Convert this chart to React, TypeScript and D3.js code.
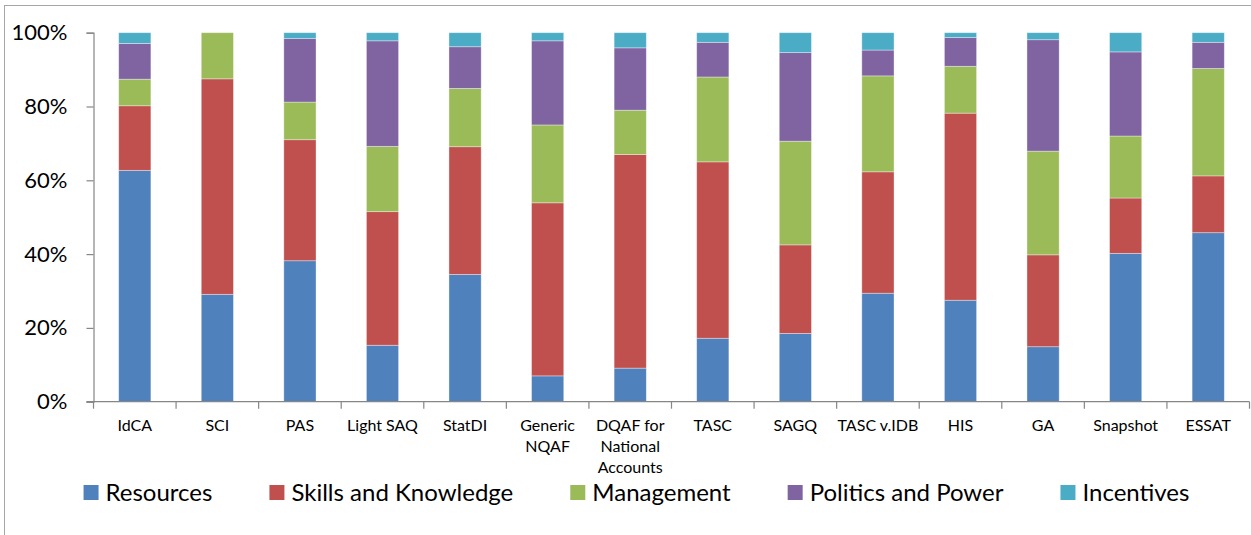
import { useEffect, useRef } from "react"
import * as d3 from "d3"

// category labels, already broken into lines the way the original wraps them
const categories = [
  ["IdCA"],
  ["SCI"],
  ["PAS"],
  ["Light SAQ"],
  ["StatDI"],
  ["Generic", "NQAF"],
  ["DQAF for", "National", "Accounts"],
  ["TASC"],
  ["SAGQ"],
  ["TASC v.IDB"],
  ["HIS"],
  ["GA"],
  ["Snapshot"],
  ["ESSAT"],
]

const seriesNames = ["Resources", "Skills and Knowledge", "Management", "Politics and Power", "Incentives"]
const seriesColors = ["#4F81BD", "#C0504D", "#9BBB59", "#8064A2", "#4BACC6"]

// shares in percent
const resources = [62.7, 29.1, 38.2, 15.3, 34.5, 7.0, 9.1, 17.2, 18.5, 29.4, 27.5, 14.9, 40.2, 45.8]
const skills = [17.5, 58.4, 32.8, 36.2, 34.6, 46.9, 57.9, 47.8, 24.0, 32.9, 50.7, 24.9, 15.0, 15.4]
const management = [7.2, 12.5, 10.2, 17.7, 15.8, 21.1, 12.0, 23.0, 28.1, 26.0, 12.7, 28.1, 16.8, 29.1]
const politics = [9.7, 0, 17.2, 28.6, 11.3, 22.8, 16.9, 9.4, 24.0, 7.0, 7.8, 30.2, 22.8, 7.1]
const incentives = [2.9, 0, 1.6, 2.2, 3.8, 2.2, 4.1, 2.6, 5.4, 4.7, 1.3, 1.9, 5.2, 2.6]

const yTicks = [0, 0.2, 0.4, 0.6, 0.8, 1]

const FONT = "Lato, 'Open Sans', sans-serif"

function StackedChart() {
  const svgRef = useRef<SVGSVGElement>(null)
  const width = 1251
  const height = 535

  useEffect(() => {
    if (!svgRef.current) return
    const root = d3.select(svgRef.current)
    root.selectAll("*").remove()

    const left = 93.5
    const right = 1249.5
    const top = 32.7
    const bottom = 401.7

    const rows = categories.map((c, i) => ({
      key: c.join(" "),
      Resources: resources[i],
      "Skills and Knowledge": skills[i],
      Management: management[i],
      "Politics and Power": politics[i],
      Incentives: incentives[i],
    }))

    const x = d3
      .scaleBand<string>()
      .domain(rows.map((r) => r.key))
      .range([left, right])
      .paddingInner(0.61)
      .paddingOuter(0.305)

    const y = d3.scaleLinear().domain([0, 1]).range([bottom, top])

    const color = d3.scaleOrdinal<string>().domain(seriesNames).range(seriesColors)

    const stack = d3
      .stack<any>()
      .keys(seriesNames)
      .offset(d3.stackOffsetExpand)

    const layers = stack(rows)

    // frame around the chart area
    root
      .append("rect")
      .attr("x", 4.5)
      .attr("y", 5.5)
      .attr("width", 1400)
      .attr("height", 700)
      .attr("fill", "none")
      .attr("stroke", "#a6a6a6")
      .attr("stroke-width", 1)

    // bars
    root
      .append("g")
      .selectAll("g")
      .data(layers)
      .join("g")
      .attr("fill", (d) => color(d.key))
      .selectAll("rect")
      .data((d) => d)
      .join("rect")
      .attr("x", (d) => x(d.data.key)!)
      .attr("width", x.bandwidth())
      .attr("y", (d) => y(d[1]))
      .attr("height", (d) => Math.max(0, y(d[0]) - y(d[1])))
      .attr("stroke", "rgba(255,255,255,0.45)")
      .attr("stroke-width", 0.8)

    // y axis
    const yAxis = root
      .append("g")
      .attr("transform", `translate(${left},0)`)
      .call(
        d3
          .axisLeft(y)
          .tickValues(yTicks)
          .tickSize(7)
          .tickPadding(19)
          .tickFormat(d3.format(".0%") as any)
      )
    yAxis.select(".domain").attr("stroke", "#868686").attr("stroke-width", 1.2)
    yAxis.selectAll(".tick line").attr("stroke", "#868686").attr("stroke-width", 1.2)
    yAxis
      .selectAll(".tick text")
      .attr("fill", "#000")
      .attr("font-family", FONT)
      .attr("font-size", "22px")

    // x axis: line and tick marks between categories
    const gx = root.append("g")
    gx.append("line")
      .attr("x1", left - 7)
      .attr("x2", right)
      .attr("y1", bottom)
      .attr("y2", bottom)
      .attr("stroke", "#868686")
      .attr("stroke-width", 1.2)
    const step = x.step()
    gx.selectAll("line.tk")
      .data(d3.range(categories.length + 1))
      .join("line")
      .attr("class", "tk")
      .attr("x1", (i) => left + i * step)
      .attr("x2", (i) => left + i * step)
      .attr("y1", bottom)
      .attr("y2", bottom + 7)
      .attr("stroke", "#868686")
      .attr("stroke-width", 1.2)

    // category labels
    const labels = gx
      .selectAll("text")
      .data(rows)
      .join("text")
      .attr("x", (d) => x(d.key)! + x.bandwidth() / 2)
      .attr("y", 431)
      .attr("text-anchor", "middle")
      .attr("font-family", FONT)
      .attr("font-size", "16px")
      .attr("fill", "#000")
    labels
      .selectAll("tspan")
      .data((d, i) => categories[i])
      .join("tspan")
      .attr("x", function () {
        return (this.parentNode as SVGTextElement).getAttribute("x")
      })
      .attr("dy", (d, i) => (i === 0 ? 0 : 21))
      .text((d) => d)

    // legend, laid out left to right and centred
    const legend = root.append("g")
    const items = legend
      .selectAll("g")
      .data(seriesNames)
      .join("g")
    items
      .append("rect")
      .attr("width", 15)
      .attr("height", 15)
      .attr("y", 485)
      .attr("fill", (d) => color(d))
    const texts = items
      .append("text")
      .attr("x", 22)
      .attr("y", 501)
      .attr("font-family", FONT)
      .attr("font-size", "24px")
      .attr("fill", "#000")
      .text((d) => d)

    const widths: number[] = []
    texts.each(function () {
      widths.push((this as SVGTextElement).getComputedTextLength())
    })
    const gap = 57
    const total = d3.sum(widths, (w) => 22 + w) + gap * (widths.length - 1)
    let cursor = 636.5 - total / 2
    items.attr("transform", (d, i) => {
      const t = `translate(${cursor},0)`
      cursor += 22 + widths[i] + gap
      return t
    })
  }, [])

  return (
    <svg
      ref={svgRef}
      width={width}
      height={height}
      style={{ position: "absolute", left: 0, top: 0, background: "#fff" }}
    />
  )
}

export default function App() {
  return <StackedChart />
}
